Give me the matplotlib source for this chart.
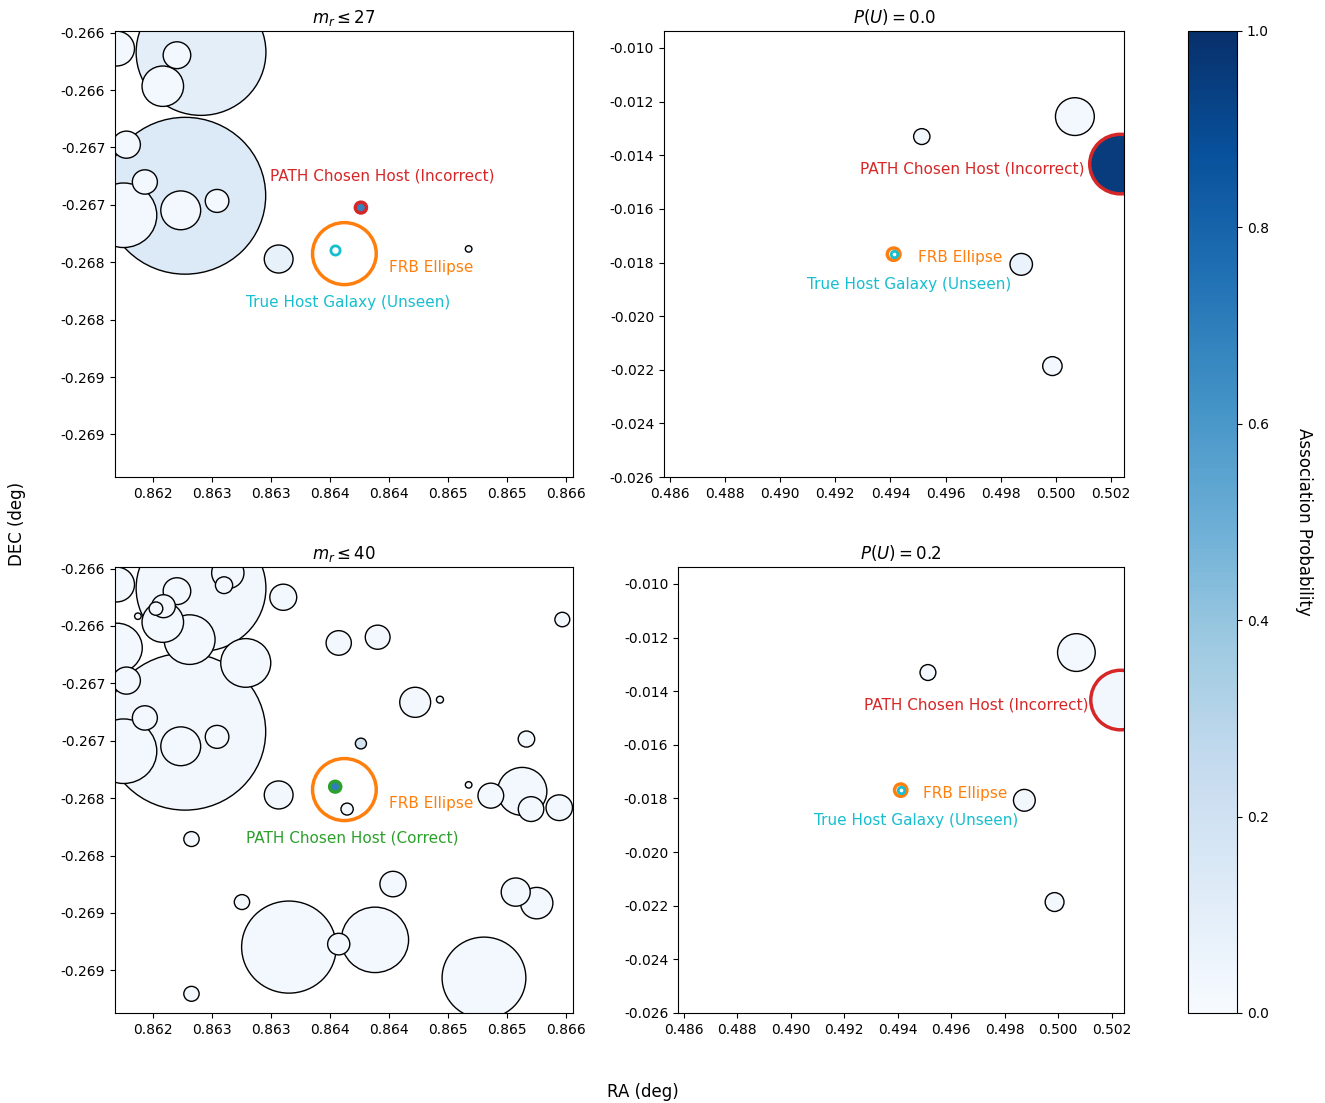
import numpy as np
import matplotlib
matplotlib.use("Agg")
import matplotlib.pyplot as plt
from matplotlib.patches import Circle, Ellipse
from matplotlib.collections import PatchCollection
from matplotlib.cm import ScalarMappable
from matplotlib.colors import Normalize

# galaxy catalogue around FRB A (left column), first 13 rows are the m_r <= 27 ones
field_ra = [0.861689, 0.862405, 0.862201, 0.862081, 0.862270, 0.861773, 0.861929,
            0.861749, 0.862233, 0.862541, 0.863063, 0.864673, 0.863760,
            0.862632, 0.862600, 0.862087, 0.862023, 0.861870, 0.862308, 0.861692,
            0.863102, 0.862784, 0.863572, 0.863902, 0.865467, 0.864220, 0.864430,
            0.865163, 0.863542, 0.863643, 0.865127, 0.864861, 0.865202, 0.865441,
            0.862324, 0.864032, 0.862752, 0.863150, 0.863879, 0.863572, 0.865072,
            0.865250, 0.864803, 0.862324]
field_dec = [-0.265639, -0.265671, -0.265697, -0.265967, -0.266921, -0.266476, -0.266801,
             -0.267091, -0.267048, -0.266966, -0.267472, -0.267384, -0.267024,
             -0.265538, -0.265645, -0.265828, -0.265849, -0.265915, -0.266119, -0.266191,
             -0.265750, -0.266322, -0.266148, -0.266098, -0.265944, -0.266665, -0.266642,
             -0.266985, -0.267400, -0.267595, -0.267441, -0.267478, -0.267595, -0.267583,
             -0.267856, -0.268248, -0.268405, -0.268797, -0.268734, -0.268771, -0.268318,
             -0.268414, -0.269065, -0.269204]
field_rad = [0.000152, 0.000550, 0.000117, 0.000176, 0.000683, 0.000118, 0.000106,
             0.000281, 0.000169, 0.000100, 0.000122, 0.000028, 0.000047,
             0.000137, 0.000073, 0.000100, 0.000058, 0.000028, 0.000216, 0.000215,
             0.000114, 0.000212, 0.000107, 0.000105, 0.000063, 0.000131, 0.000030,
             0.000070, 0.000047, 0.000052, 0.000209, 0.000109, 0.000108, 0.000112,
             0.000065, 0.000111, 0.000065, 0.000401, 0.000285, 0.000094, 0.000123,
             0.000137, 0.000355, 0.000065]
n_bright = 13
prob_m27 = [0.02, 0.10, 0.02, 0.02, 0.14, 0.02, 0.02, 0.02, 0.02, 0.02, 0.08, 0.01, 0.68]
prob_m40 = [0.02, 0.03, 0.02, 0.02, 0.03, 0.02, 0.02, 0.02, 0.02, 0.02, 0.03, 0.01, 0.18,
            0.02, 0.02, 0.02, 0.02, 0.01, 0.02, 0.02, 0.02, 0.02, 0.02, 0.02, 0.02,
            0.02, 0.01, 0.02, 0.70, 0.03, 0.02, 0.02, 0.02, 0.02, 0.02, 0.02, 0.02,
            0.02, 0.02, 0.02, 0.02, 0.02, 0.02, 0.02]
chosen_m27 = 12
chosen_m40 = 28
frb_a = (0.863620, -0.267425)
frb_a_rad = 0.000270
true_host_a = (0.863542, -0.267396)

# galaxies around FRB B (right column)
right_ra = [0.495137, 0.500687, 0.502335, 0.498742, 0.499872]
right_dec = [-0.013304, -0.012559, -0.014330, -0.018069, -0.021863]
right_rad = [0.000296, 0.000704, 0.001110, 0.000407, 0.000352]
prob_pu00 = [0.02, 0.02, 0.95, 0.07, 0.02]
prob_pu02 = [0.02, 0.02, 0.03, 0.03, 0.02]
chosen_right = 2
frb_b = (0.494118, -0.017690)
frb_b_rad = 0.000230
true_host_b = (0.494120, -0.017688)

left_xticks = [0.8620, 0.8625, 0.8630, 0.8635, 0.8640, 0.8645, 0.8650, 0.8655]
left_xlabels = ['0.862', '0.863', '0.863', '0.864', '0.864', '0.865', '0.865', '0.866']
left_yticks = [-0.2655, -0.2660, -0.2665, -0.2670, -0.2675, -0.2680, -0.2685, -0.2690]
left_ylabels = ['-0.266', '-0.266', '-0.267', '-0.267', '-0.268', '-0.268', '-0.269', '-0.269']
right_xticks = [0.486, 0.488, 0.490, 0.492, 0.494, 0.496, 0.498, 0.500, 0.502]
right_xlabels = ['0.486', '0.488', '0.490', '0.492', '0.494', '0.496', '0.498', '0.500', '0.502']
right_yticks = [-0.010, -0.012, -0.014, -0.016, -0.018, -0.020, -0.022, -0.024, -0.026]
right_ylabels = ['-0.010', '-0.012', '-0.014', '-0.016', '-0.018', '-0.020', '-0.022', '-0.024', '-0.026']

RED = '#d62728'
GREEN = '#2ca02c'
ORANGE = '#ff7f0e'
CYAN = '#17becf'


def draw_galaxies(ax, ra, dec, rad, prob, chosen, chosen_color):
    order = np.argsort(rad)[::-1]
    patches = [Circle((ra[i], dec[i]), rad[i]) for i in order]
    edges = [chosen_color if i == chosen else 'black' for i in order]
    widths = [2.5 if i == chosen else 1.0 for i in order]
    pc = PatchCollection(patches, cmap='Blues', edgecolors=edges, linewidths=widths, zorder=2)
    pc.set_array(np.asarray(prob)[order])
    pc.set_clim(0, 1)
    ax.add_collection(pc)


def draw_frb(ax, frb, r, host, host_size):
    ax.add_patch(Ellipse(frb, 2 * r, 2 * r, fill=False, edgecolor=ORANGE, lw=2.5, zorder=4))
    if host is not None:
        ax.scatter([host[0]], [host[1]], s=host_size, facecolor='white',
                   edgecolor=CYAN, linewidths=2, zorder=5)


fig = plt.figure(figsize=(13.25, 11.03), dpi=100)
ax_tl = fig.add_axes([0.0868, 0.5675, 0.3457, 0.4044])
ax_tr = fig.add_axes([0.5011, 0.5675, 0.3472, 0.4044])
ax_bl = fig.add_axes([0.0868, 0.0816, 0.3457, 0.4044])
ax_br = fig.add_axes([0.5117, 0.0816, 0.3366, 0.4044])
cax = fig.add_axes([0.8966, 0.0816, 0.0370, 0.8903])

bright = slice(0, n_bright)

# m_r <= 27
draw_galaxies(ax_tl, field_ra[bright], field_dec[bright], field_rad[bright],
              prob_m27, chosen_m27, RED)
draw_frb(ax_tl, frb_a, frb_a_rad, true_host_a, 44)
ax_tl.text(0.863938, -0.266749, 'PATH Chosen Host (Incorrect)', color=RED,
           fontsize=11, ha='center', va='center')
ax_tl.text(0.864353, -0.267550, 'FRB Ellipse', color=ORANGE, fontsize=11,
           ha='center', va='center')
ax_tl.text(0.863653, -0.267849, 'True Host Galaxy (Unseen)', color=CYAN,
           fontsize=11, ha='center', va='center')
ax_tl.set_title(r'$m_r \leq 27$', fontsize=12)

# m_r <= 40
draw_galaxies(ax_bl, field_ra, field_dec, field_rad, prob_m40, chosen_m40, GREEN)
draw_frb(ax_bl, frb_a, frb_a_rad, None, 0)
ax_bl.text(0.864353, -0.267550, 'FRB Ellipse', color=ORANGE, fontsize=11,
           ha='center', va='center')
ax_bl.text(0.863688, -0.267850, 'PATH Chosen Host (Correct)', color=GREEN,
           fontsize=11, ha='center', va='center')
ax_bl.set_title(r'$m_r \leq 40$', fontsize=12)

# P(U) panels
for ax, prob, title in [(ax_tr, prob_pu00, r'$P(U) = 0.0$'), (ax_br, prob_pu02, r'$P(U) = 0.2$')]:
    draw_galaxies(ax, right_ra, right_dec, right_rad, prob, chosen_right, RED)
    draw_frb(ax, frb_b, frb_b_rad, true_host_b, 22)
    ax.text(0.49696, -0.01450, 'PATH Chosen Host (Incorrect)', color=RED,
            fontsize=11, ha='center', va='center')
    ax.text(0.49652, -0.01781, 'FRB Ellipse', color=ORANGE, fontsize=11,
            ha='center', va='center')
    ax.text(0.49469, -0.01881, 'True Host Galaxy (Unseen)', color=CYAN,
            fontsize=11, ha='center', va='center')
    ax.set_title(title, fontsize=12)
    ax.set_xlim(0.485792, 0.502467)
    ax.set_ylim(-0.026, -0.009367)
    ax.set_xticks(right_xticks)
    ax.set_xticklabels(right_xlabels)
    ax.set_yticks(right_yticks)
    ax.set_yticklabels(right_ylabels)

for ax in (ax_tl, ax_bl):
    ax.set_xlim(0.861676, 0.865558)
    ax.set_ylim(-0.269371, -0.265486)
    ax.set_xticks(left_xticks)
    ax.set_xticklabels(left_xlabels)
    ax.set_yticks(left_yticks)
    ax.set_yticklabels(left_ylabels)

for ax in (ax_tl, ax_tr, ax_bl, ax_br):
    ax.tick_params(labelsize=10)

sm = ScalarMappable(norm=Normalize(0, 1), cmap='Blues')
cb = fig.colorbar(sm, cax=cax)
cb.set_ticks([0.0, 0.2, 0.4, 0.6, 0.8, 1.0])
cb.set_label('Association Probability', rotation=270, labelpad=32, fontsize=12)

fig.text(0.485, 0.010, 'RA (deg)', ha='center', va='center', fontsize=12)
fig.text(0.013, 0.525, 'DEC (deg)', ha='center', va='center', rotation=90, fontsize=12)

fig.savefig('out.png', dpi=100)
